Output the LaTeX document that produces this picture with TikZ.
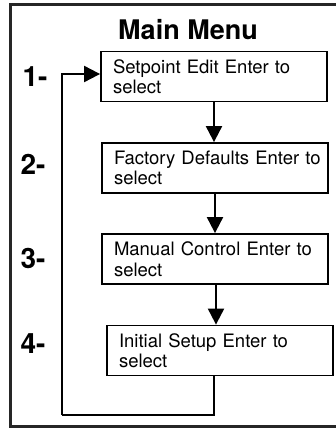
\documentclass[tikz,border=0pt]{standalone}
\usepackage{fontspec}
\setmainfont{TeX Gyre Heros}
\usetikzlibrary{arrows.meta}

\begin{document}
\begin{tikzpicture}[x=1pt, y=-1pt,
  menubox/.style={draw, line width=1.8pt, minimum width=226pt, minimum height=50pt,
    inner xsep=12pt, inner ysep=0pt, text width=202pt, align=left,
    font=\fontsize{18.5}{20.5}\selectfont},
  flow/.style={line width=2pt, -{Triangle[width=16pt,length=16pt]}},
  wire/.style={line width=2pt},
  num/.style={font=\bfseries\fontsize{28}{28}\selectfont, inner sep=0pt},
  frame/.style={line width=3pt, draw=black!85}]
\useasboundingbox (0,0) rectangle (336,428);

% outer frame
\draw[frame] (10.5,5) rectangle (342,426.5);

% title
\node[font=\bfseries\fontsize{27}{27}\selectfont, inner sep=0pt] (title) at (188,30) {Main Menu};

% menu entries (first lines kept unbroken)
\node[menubox] (b1) at (214,76.5) {\mbox{Setpoint Edit Enter to}\\select};
\node[menubox] (b2) at (215,168) {\mbox{Factory Defaults Enter to}\\select};
\node[menubox] (b3) at (215,259) {\mbox{Manual Control Enter to}\\select};
\node[menubox] (b4) at (220,350.5) {\mbox{Initial Setup Enter to}\\select};

% entry numbers
\node[num] (n1) at (35,77) {1-};
\node[num] (n2) at (33,164) {2-};
\node[num] (n3) at (33,258) {3-};
\node[num] (n4) at (33,344) {4-};

% forward steps
\draw[flow] (b1.south) -- (b1.south |- b2.north);
\draw[flow] (b2.south) -- (b2.south |- b3.north);
\draw[flow] ([xshift=-4pt]b4.north |- b3.south) -- ([xshift=-4pt]b4.north);

% return path back to the first entry
\coordinate (loopbase) at (62,415);
\draw[wire] ([xshift=-6pt]b4.south) |- (loopbase);
\draw[flow] (loopbase) |- ([yshift=2.5pt]b1.west);
\end{tikzpicture}
\end{document}
